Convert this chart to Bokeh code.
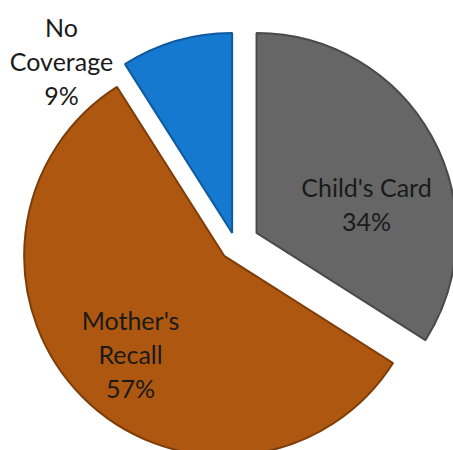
import math
from bokeh.plotting import figure
from bokeh.models import Range1d, ColumnDataSource
from bokeh.core.properties import value
from bokeh.embed import file_html
from bokeh.resources import INLINE

# ---- data ----
categories = ["Child's Card", "Mother's\nRecall", "No\nCoverage"]
shares = [34, 57, 9]

# ---- style / layout ----
W, H = 453, 450
colors = ["#666666", "#AE5710", "#1679D0"]
edge_colors = ["#4a4a4a", "#7e3d08", "#0f5a9e"]
explode = [24, 16, 12]          # px offset of each slice along its bisector
center = (235, 244)             # pixel coords (y down)
radius = 200
label_pos = [(366, 203), (130, 353), (61, 60)]  # pixel coords (y down), label block centres
line_gap = 34
font = "Lato"
font_size = "25px"

p = figure(width=W, height=H, output_backend="svg", toolbar_location=None,
           x_range=Range1d(0, W), y_range=Range1d(0, H), min_border=0)
p.axis.visible = False
p.grid.visible = False
p.outline_line_color = None
p.background_fill_color = "white"

total = float(sum(shares))
cum = 0.0
xs, ys, starts, ends = [], [], [], []
for v, e in zip(shares, explode):
    a1 = cum / total * 2 * math.pi          # clockwise from 12 o'clock
    a2 = (cum + v) / total * 2 * math.pi
    mid = (a1 + a2) / 2
    cx = center[0] + e * math.sin(mid)
    cy = center[1] - e * math.cos(mid)
    xs.append(cx)
    ys.append(H - cy)
    starts.append(math.pi / 2 - a2)
    ends.append(math.pi / 2 - a1)
    cum += v

src = ColumnDataSource(dict(x=xs, y=ys, s=starts, e=ends, c=colors, lc=edge_colors))
# soft shadow
p.wedge(x="x", y="y", radius=radius + 1, start_angle="s", end_angle="e",
        source=src, fill_color="#000000", fill_alpha=0.10, line_color=None,
        radius_units="screen")
p.wedge(x="x", y="y", radius=radius, start_angle="s", end_angle="e",
        source=src, fill_color="c", line_color="lc", line_width=2,
        radius_units="screen")

tx, ty, tt = [], [], []
for cat, v, (lx, ly) in zip(categories, shares, label_pos):
    lines = cat.split("\n") + [f"{v}%"]
    n = len(lines)
    for i, ln in enumerate(lines):
        yy = ly + (i - (n - 1) / 2) * line_gap
        tx.append(lx)
        ty.append(H - yy)
        tt.append(ln)

p.text(x=tx, y=ty, text=tt, text_align="center", text_baseline="middle",
       text_font=value(font), text_font_size=font_size, text_color="#1a1a1a")

open("out.html", "w").write(file_html(p, INLINE))
